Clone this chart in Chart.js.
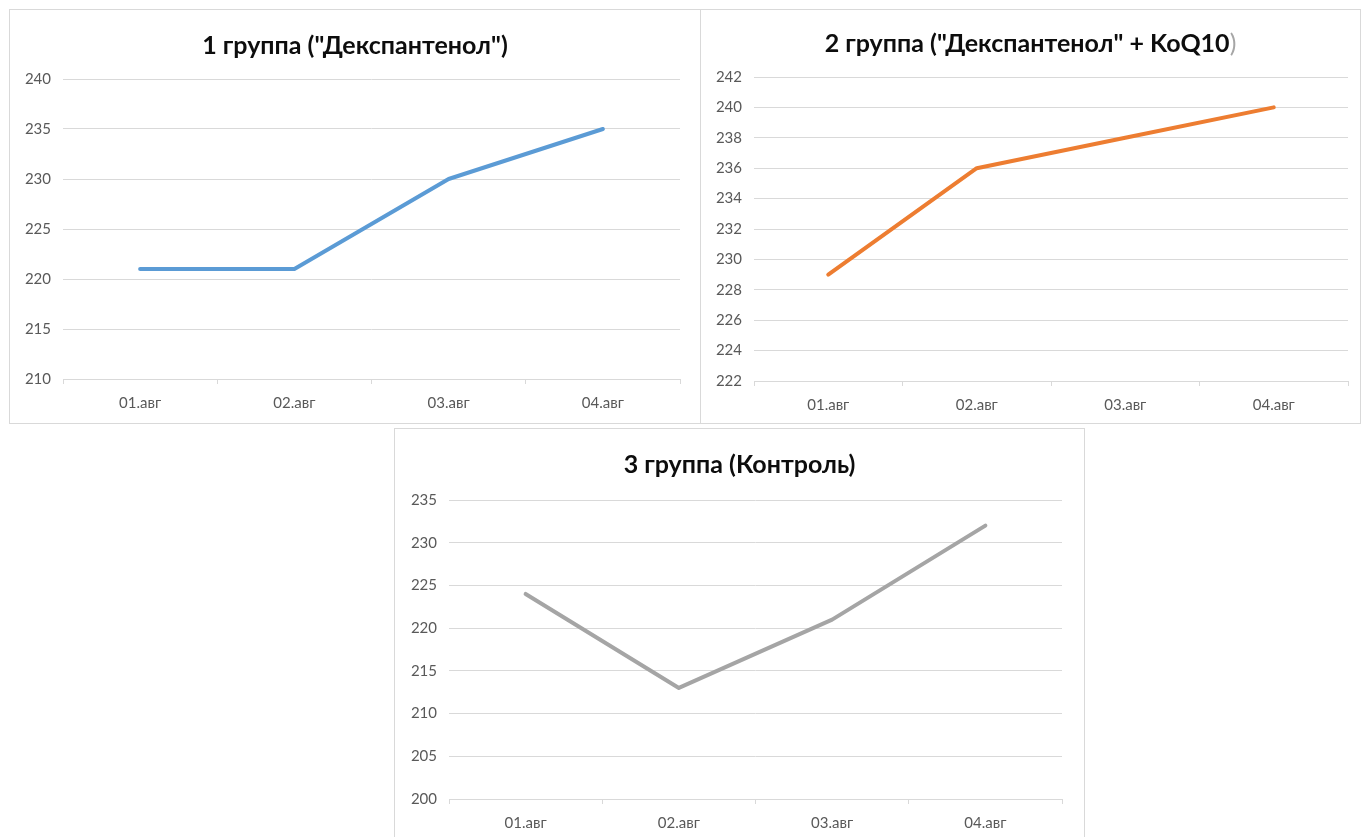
<!DOCTYPE html>
<html lang="ru">
<head>
<meta charset="utf-8">
<title>Группы</title>
<script src="https://cdn.jsdelivr.net/npm/chart.js@4"></script>
<style>
    html, body {
        margin: 0;
        padding: 0;
        background: #fff;
        overflow: hidden;
        width: 1361px;
        height: 837px;
    }
    .box {
        position: absolute;
        box-sizing: border-box;
        border: 1px solid #D9D9D9;
        background: #fff;
    }
    .box canvas {
        position: absolute;
        left: 0;
        top: 0;
    }
    .box .title {
        position: absolute;
        left: 0;
        right: 0;
        text-align: center;
        font-family: Lato, "Open Sans", sans-serif;
        font-weight: bold;
        font-size: 25px;
        line-height: 28px;
        color: #0D0D0D;
        z-index: 2;
    }
    .title .thin {
        font-weight: normal;
        color: #A6A6A6;
    }
</style>
</head>
<body>

<div class="box" id="box1" style="left:9px; top:9px; width:692px; height:415px;">
    <div class="title" style="top:20px;">1 группа ("Декспантенол")</div>
    <canvas id="chart1" width="690" height="413"></canvas>
</div>

<div class="box" id="box2" style="left:700px; top:9px; width:661px; height:415px;">
    <div class="title" style="top:18px;">2 группа ("Декспантенол" + KoQ10<span class="thin">)</span></div>
    <canvas id="chart2" width="659" height="413"></canvas>
</div>

<div class="box" id="box3" style="left:394px; top:428px; width:691px; height:415px;">
    <div class="title" style="top:20px;">3 группа (Контроль)</div>
    <canvas id="chart3" width="689" height="413"></canvas>
</div>

<script>
    // Dates along the x axis
    const categories = ['01.авг', '02.авг', '03.авг', '04.авг'];

    // Values per group
    const group1Values = [221, 221, 230, 235];
    const group2Values = [229, 236, 238, 240];
    const group3Values = [224, 213, 221, 232];

    // Y axis ranges: [min, max, step]
    const group1Axis = [210, 240, 5];
    const group2Axis = [222, 242, 2];
    const group3Axis = [200, 235, 5];

    const gridColor = '#D9D9D9';
    const tickColor = '#595959';
    const tickFont = { family: 'Lato, "Open Sans", sans-serif', size: 15 };

    function makeChart(canvasId, values, color, axis, frame) {
        const ctx = document.getElementById(canvasId).getContext('2d');
        return new Chart(ctx, {
            type: 'line',
            data: {
                labels: categories,
                datasets: [{
                    data: values,
                    borderColor: color,
                    borderWidth: 4,
                    borderCapStyle: 'round',
                    borderJoinStyle: 'round',
                    pointRadius: 0,
                    pointHoverRadius: 0,
                    tension: 0,
                    fill: false
                }]
            },
            options: {
                responsive: false,
                animation: false,
                devicePixelRatio: 1,
                layout: {
                    padding: { top: frame.top, right: frame.right, left: 0, bottom: 0 }
                },
                plugins: {
                    legend: { display: false },
                    title: { display: false },
                    tooltip: { enabled: false }
                },
                scales: {
                    x: {
                        offset: true,
                        grid: {
                            offset: true,
                            drawOnChartArea: false,
                            drawTicks: true,
                            tickLength: 5,
                            color: gridColor
                        },
                        border: { display: true, color: gridColor },
                        ticks: {
                            color: tickColor,
                            font: tickFont,
                            padding: 10,
                            maxRotation: 0
                        },
                        afterFit: function (scale) {
                            scale.height = frame.xHeight;
                        }
                    },
                    y: {
                        min: axis[0],
                        max: axis[1],
                        grid: {
                            color: gridColor,
                            drawTicks: false
                        },
                        border: { display: false },
                        ticks: {
                            stepSize: axis[2],
                            color: tickColor,
                            font: tickFont,
                            padding: 12
                        },
                        afterFit: function (scale) {
                            scale.width = frame.yWidth;
                        }
                    }
                }
            }
        });
    }

    makeChart('chart1', group1Values, '#5B9BD5', group1Axis, { top: 69, right: 20, yWidth: 53, xHeight: 44 });
    makeChart('chart2', group2Values, '#ED7D31', group2Axis, { top: 67, right: 12, yWidth: 53, xHeight: 42 });
    makeChart('chart3', group3Values, '#A5A5A5', group3Axis, { top: 71, right: 22, yWidth: 54, xHeight: 43 });
</script>
</body>
</html>
